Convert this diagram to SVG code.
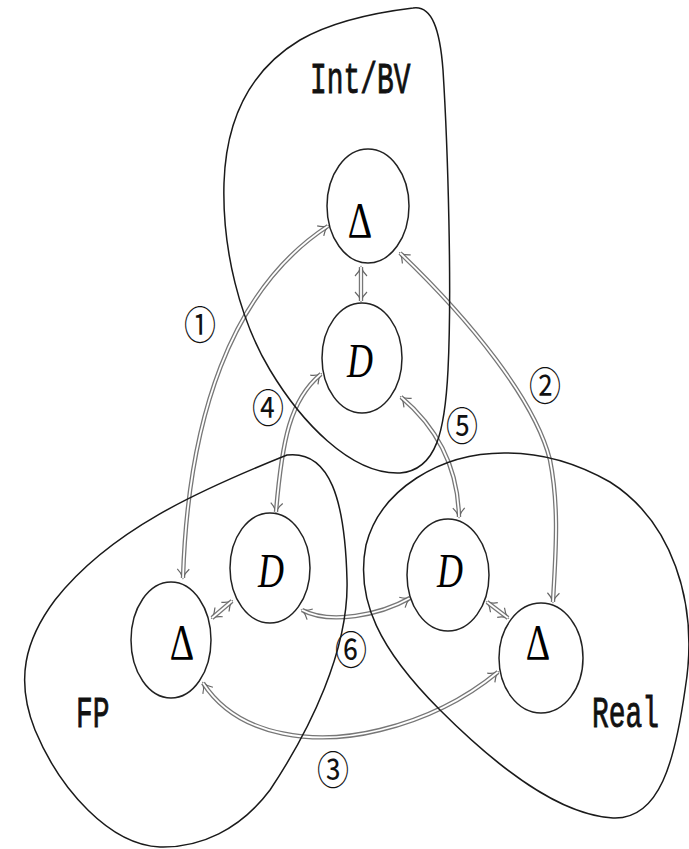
<svg xmlns="http://www.w3.org/2000/svg" width="689" height="849" viewBox="0 0 689 849">
<style>
.blob{fill:none;stroke:#1a1a1a;stroke-width:1.5}
.node{fill:#fff;stroke:#222;stroke-width:1.5}
.aout{fill:none;stroke:#777;stroke-width:4.4}
.ain{fill:none;stroke:#fff;stroke-width:1.8}
.lbl{font-family:"Liberation Mono",monospace;font-size:30px;fill:#111;stroke:#111;stroke-width:0.6}
.sym{font-family:"Liberation Serif",serif;font-size:38px;fill:#000;text-anchor:middle}
.cal{font-family:"Liberation Serif",serif;font-style:italic;font-size:36px;fill:#000;text-anchor:middle}
.num{font-family:"Noto Sans CJK JP","Noto Sans",sans-serif;font-size:32px;fill:#111;text-anchor:middle;dominant-baseline:central}
</style>
<defs>
<marker id="hd" viewBox="-11 -8 13 16" refX="0" refY="0" markerWidth="13" markerHeight="16" markerUnits="userSpaceOnUse" orient="auto-start-reverse">
<path d="M -9,-6 C -5.5,-2.2 -2.2,-0.8 0,0 C -2.2,0.8 -5.5,2.2 -9,6" fill="none" stroke="#666" stroke-width="1.2"/>
</marker>
</defs>
<g id="connectors">
<g id="c1"><path class="aout" d="M 183,578 C 188,420 230,290 328,226" marker-start="url(#hd)" marker-end="url(#hd)"/><path class="ain" d="M 183,578 C 188,420 230,290 328,226"/></g>
<g id="c2"><path class="aout" d="M 400,253 C 470,320 535,400 550,460 C 560,510 555,560 553,602" marker-start="url(#hd)" marker-end="url(#hd)"/><path class="ain" d="M 400,253 C 470,320 535,400 550,460 C 560,510 555,560 553,602"/></g>
<g id="c3"><path class="aout" d="M 203,683 C 240,740 320,745 380,730 C 430,718 470,695 498,672" marker-start="url(#hd)" marker-end="url(#hd)"/><path class="ain" d="M 203,683 C 240,740 320,745 380,730 C 430,718 470,695 498,672"/></g>
<g id="c4"><path class="aout" d="M 321,374 C 290,400 282,440 276,512" marker-start="url(#hd)" marker-end="url(#hd)"/><path class="ain" d="M 321,374 C 290,400 282,440 276,512"/></g>
<g id="c5"><path class="aout" d="M 401,397 C 440,430 458,470 459,517" marker-start="url(#hd)" marker-end="url(#hd)"/><path class="ain" d="M 401,397 C 440,430 458,470 459,517"/></g>
<g id="c6"><path class="aout" d="M 302,610 C 330,625 380,615 410,598" marker-start="url(#hd)" marker-end="url(#hd)"/><path class="ain" d="M 302,610 C 330,625 380,615 410,598"/></g>
<g id="c7"><path class="aout" d="M 361,267 L 361,301" marker-start="url(#hd)" marker-end="url(#hd)"/><path class="ain" d="M 361,267 L 361,301"/></g>
<g id="c8"><path class="aout" d="M 232,601 L 212,618" marker-start="url(#hd)" marker-end="url(#hd)"/><path class="ain" d="M 232,601 L 212,618"/></g>
<g id="c9"><path class="aout" d="M 487,602 L 508,618" marker-start="url(#hd)" marker-end="url(#hd)"/><path class="ain" d="M 487,602 L 508,618"/></g>
<g transform="translate(200,322) scale(1,1.22)"><text class="num" x="0" y="0">①</text></g>
<g transform="translate(545,383) scale(1,1.22)"><text class="num" x="0" y="0">②</text></g>
<g transform="translate(333,767) scale(1,1.22)"><text class="num" x="0" y="0">③</text></g>
<g transform="translate(268,405) scale(1,1.22)"><text class="num" x="0" y="0">④</text></g>
<g transform="translate(462,423) scale(1,1.22)"><text class="num" x="0" y="0">⑤</text></g>
<g transform="translate(351,647) scale(1,1.22)"><text class="num" x="0" y="0">⑥</text></g>
</g>
<g id="intbv">
<path class="blob" d="M 413,8 C 432,5 440,30 443,70 C 448,150 452,290 448,370 C 445,430 437,470 400,473 C 350,475 300,420 270,370 C 240,320 222,250 224,183 C 226,120 250,70 300,40 C 335,20 380,12 413,8 Z"/>
<g transform="translate(310,93) scale(0.93,1.45)"><text class="lbl" x="0" y="0">Int/BV</text></g>
</g>
<g id="fp">
<path class="blob" d="M 287,455 C 330,450 345,500 347,580 C 349,650 310,730 270,790 C 240,830 200,848 160,847 C 110,845 60,790 35,730 C 15,680 25,640 55,600 C 110,530 200,490 287,455 Z"/>
<g transform="translate(76,727) scale(0.93,1.45)"><text class="lbl" x="0" y="0">FP</text></g>
</g>
<g id="real">
<path class="blob" d="M 507,453 C 440,452 380,490 366,545 C 355,600 380,650 440,710 C 500,770 560,815 613,818 C 660,820 675,760 685,690 C 700,600 670,520 610,482 C 580,465 545,453 507,453 Z"/>
<g transform="translate(592,727) scale(0.93,1.45)"><text class="lbl" x="0" y="0">Real</text></g>
</g>
<g id="n-int-delta"><ellipse class="node" cx="368" cy="206" rx="41" ry="57"/><g transform="translate(360,237) scale(1,1.35)"><text class="sym" x="0" y="0">Δ</text></g></g>
<g id="n-int-d"><ellipse class="node" cx="362" cy="358" rx="40" ry="55"/><g transform="translate(360,377) scale(1,1.35)"><text class="cal" x="0" y="0">D</text></g></g>
<g id="n-fp-d"><ellipse class="node" cx="270" cy="568" rx="40" ry="55"/><g transform="translate(271,587) scale(1,1.35)"><text class="cal" x="0" y="0">D</text></g></g>
<g id="n-fp-delta"><ellipse class="node" cx="171" cy="640" rx="40" ry="58"/><g transform="translate(182,659) scale(1,1.35)"><text class="sym" x="0" y="0">Δ</text></g></g>
<g id="n-real-d"><ellipse class="node" cx="448" cy="575" rx="41" ry="56"/><g transform="translate(450,587) scale(1,1.35)"><text class="cal" x="0" y="0">D</text></g></g>
<g id="n-real-delta"><ellipse class="node" cx="541" cy="658" rx="42" ry="55"/><g transform="translate(538,659) scale(1,1.35)"><text class="sym" x="0" y="0">Δ</text></g></g>
</svg>
